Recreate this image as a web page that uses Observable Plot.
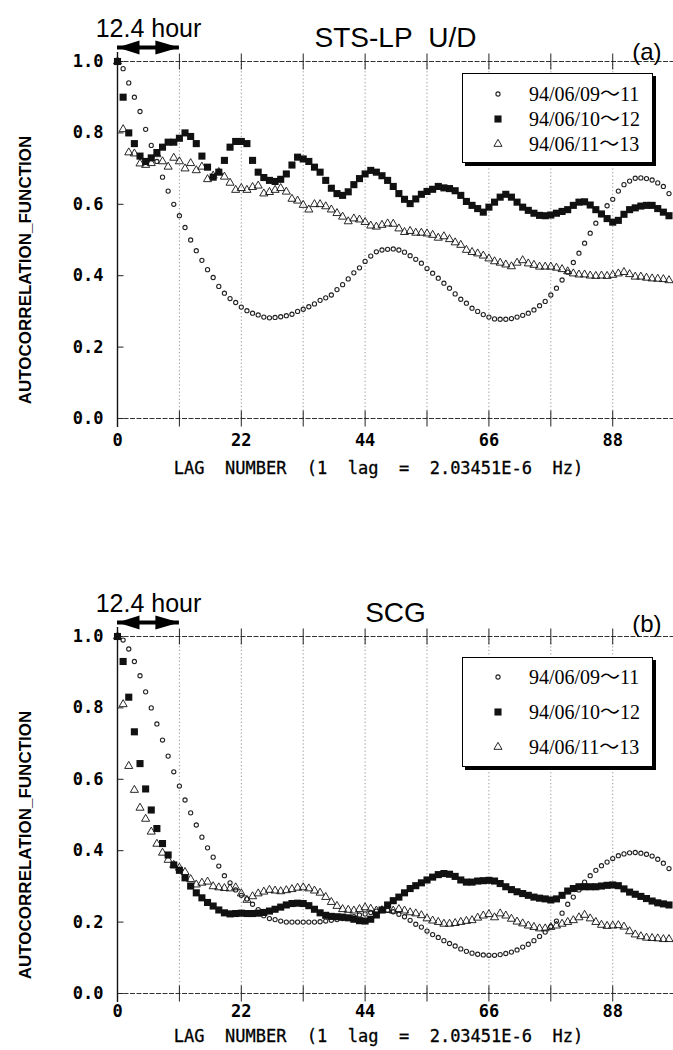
<!DOCTYPE html>
<html>
<head>
<meta charset="utf-8">
<script src="https://cdn.jsdelivr.net/npm/d3@7"></script>
<script src="https://cdn.jsdelivr.net/npm/@observablehq/plot@0.6"></script>
<style>
  body { margin: 0; background: #fff; }
  #wrap { position: relative; width: 673px; height: 1050px; overflow: hidden; background: #fff; }
  .panel { position: absolute; left: 0; }
  .legend { position: absolute; border: 1.5px solid #000; box-shadow: 3px 3px 0 #000; background: #fff;
            font-family: "Liberation Serif", "Noto Sans CJK JP", serif; font-size: 20px; color: #000; box-sizing: border-box; }
  .legend .row { position: absolute; left: 0; width: 100%; height: 24px; }
  .legend .row svg { position: absolute; top: 4px; }
  .legend .row span { position: absolute; left: 66px; top: 0; line-height: 24px; white-space: nowrap; }
</style>
</head>
<body>
<div id="wrap"></div>
<script>
// ---------------- data ----------------
const lags = d3.range(0, 99);                       // lag numbers 0..98
const seriesNames = ["94/06/09〜11", "94/06/10〜12", "94/06/11〜13"];
const M2 = 11;                                       // 12.4-hour period, in lags
const gridLags = [11, 22, 33, 44, 55, 66, 77, 88];
const xTickLabels = [0, 22, 44, 66, 88];
const yTicks = [0, 0.2, 0.4, 0.6, 0.8, 1.0];
const xLabel = "LAG\u00a0 NUMBER\u00a0 (1\u00a0 lag\u00a0 =\u00a0 2.03451E-6\u00a0 Hz)";
const yLabel = "AUTOCORRELATION_FUNCTION";

// (a) STS-LP U/D
const sts_0609_11 = [1.0,0.98,0.94,0.90,0.86,0.81,0.765,0.72,0.676,0.637,
  0.60,0.568,0.535,0.50,0.47,0.443,0.417,0.395,0.37,0.351,
  0.336,0.325,0.312,0.302,0.295,0.29,0.284,0.282,0.283,0.285,
  0.288,0.292,0.30,0.306,0.313,0.321,0.331,0.338,0.346,0.361,
  0.375,0.391,0.408,0.422,0.44,0.455,0.467,0.472,0.474,0.475,
  0.472,0.466,0.456,0.446,0.435,0.42,0.407,0.393,0.379,0.365,
  0.349,0.334,0.323,0.309,0.30,0.291,0.284,0.279,0.278,0.278,
  0.28,0.284,0.289,0.295,0.304,0.316,0.328,0.346,0.365,0.388,
  0.41,0.437,0.463,0.491,0.519,0.547,0.571,0.596,0.614,0.637,
  0.655,0.665,0.673,0.674,0.672,0.668,0.66,0.65,0.63];
const sts_0610_12 = [1.0,0.90,0.80,0.77,0.735,0.72,0.73,0.745,0.76,0.774,
  0.774,0.785,0.80,0.79,0.77,0.735,0.704,0.676,0.69,0.723,
  0.76,0.776,0.776,0.77,0.723,0.69,0.675,0.667,0.664,0.67,
  0.685,0.71,0.732,0.727,0.72,0.704,0.69,0.667,0.645,0.63,
  0.625,0.635,0.655,0.672,0.685,0.695,0.69,0.68,0.667,0.65,
  0.63,0.614,0.602,0.615,0.628,0.636,0.642,0.65,0.646,0.644,
  0.638,0.625,0.608,0.597,0.588,0.578,0.592,0.606,0.62,0.628,
  0.62,0.606,0.592,0.583,0.575,0.569,0.568,0.57,0.575,0.58,
  0.585,0.597,0.606,0.607,0.598,0.585,0.573,0.56,0.55,0.555,
  0.572,0.585,0.59,0.595,0.597,0.597,0.588,0.578,0.568];
const sts_0611_13 = [1.0,0.81,0.745,0.742,0.714,0.71,0.715,0.74,0.72,0.705,
  0.73,0.72,0.70,0.715,0.695,0.705,0.67,0.68,0.69,0.677,
  0.66,0.64,0.645,0.64,0.648,0.652,0.63,0.634,0.64,0.645,
  0.635,0.615,0.61,0.598,0.585,0.6,0.6,0.594,0.585,0.575,
  0.565,0.552,0.56,0.557,0.55,0.54,0.537,0.542,0.546,0.545,
  0.532,0.522,0.525,0.52,0.52,0.518,0.514,0.506,0.51,0.502,
  0.493,0.486,0.472,0.466,0.462,0.456,0.448,0.44,0.436,0.431,
  0.426,0.436,0.443,0.434,0.43,0.425,0.425,0.425,0.422,0.418,
  0.412,0.406,0.403,0.403,0.40,0.399,0.40,0.399,0.402,0.406,
  0.41,0.404,0.397,0.397,0.394,0.392,0.391,0.39,0.387];

// (b) SCG
const scg_0609_11 = [1.0,0.99,0.965,0.93,0.89,0.845,0.80,0.755,0.71,0.665,
  0.621,0.581,0.542,0.506,0.472,0.438,0.408,0.382,0.357,0.33,
  0.31,0.29,0.275,0.265,0.25,0.235,0.218,0.21,0.207,0.203,
  0.20,0.20,0.20,0.20,0.20,0.20,0.201,0.203,0.205,0.207,
  0.21,0.212,0.215,0.22,0.223,0.227,0.231,0.234,0.233,0.229,
  0.222,0.215,0.205,0.194,0.186,0.175,0.165,0.157,0.148,0.14,
  0.133,0.125,0.118,0.113,0.11,0.108,0.107,0.107,0.109,0.112,
  0.116,0.122,0.13,0.138,0.148,0.16,0.172,0.187,0.203,0.225,
  0.25,0.27,0.29,0.312,0.33,0.345,0.358,0.368,0.378,0.386,
  0.391,0.394,0.395,0.393,0.39,0.385,0.376,0.365,0.35];
const scg_0610_12 = [1.0,0.93,0.83,0.733,0.644,0.573,0.514,0.462,0.42,0.388,
  0.36,0.345,0.324,0.301,0.282,0.268,0.255,0.245,0.234,0.226,
  0.223,0.224,0.225,0.224,0.224,0.225,0.227,0.231,0.236,0.242,
  0.248,0.252,0.253,0.252,0.246,0.236,0.226,0.219,0.216,0.215,
  0.214,0.212,0.208,0.204,0.203,0.208,0.22,0.234,0.248,0.26,
  0.27,0.282,0.294,0.302,0.31,0.318,0.326,0.333,0.336,0.334,
  0.328,0.318,0.312,0.312,0.315,0.316,0.317,0.315,0.308,0.299,
  0.291,0.285,0.28,0.275,0.27,0.267,0.265,0.262,0.265,0.275,
  0.287,0.294,0.299,0.299,0.299,0.299,0.301,0.303,0.304,0.302,
  0.293,0.284,0.278,0.272,0.266,0.259,0.254,0.251,0.248];
const scg_0611_13 = [1.0,0.81,0.637,0.57,0.52,0.489,0.453,0.419,0.394,0.374,
  0.36,0.352,0.34,0.32,0.305,0.31,0.313,0.30,0.297,0.295,
  0.294,0.297,0.28,0.262,0.272,0.28,0.285,0.29,0.288,0.286,
  0.289,0.292,0.296,0.297,0.294,0.288,0.282,0.27,0.256,0.245,
  0.236,0.234,0.232,0.236,0.241,0.237,0.232,0.233,0.234,0.232,
  0.236,0.232,0.227,0.224,0.219,0.21,0.204,0.2,0.195,0.195,
  0.197,0.2,0.203,0.205,0.212,0.218,0.222,0.213,0.224,0.218,
  0.209,0.201,0.196,0.19,0.186,0.182,0.182,0.186,0.19,0.195,
  0.2,0.205,0.213,0.22,0.21,0.2,0.192,0.189,0.19,0.191,
  0.187,0.174,0.165,0.16,0.156,0.155,0.154,0.152,0.152];

// ---------------- helpers ----------------
function toRows(arrays) {
  return arrays.map((vals, i) => vals.map((v, j) => ({lag: lags[j], value: v, series: seriesNames[i]})));
}
const tickV = {draw(ctx) { ctx.moveTo(0, -8); ctx.lineTo(0, 8); }};
const tickIn = {draw(ctx) { ctx.moveTo(0, 0); ctx.lineTo(6, 0); }};
const headLeft = {draw(ctx) { ctx.moveTo(0, 0); ctx.lineTo(22, -7); ctx.lineTo(22, 7); ctx.closePath(); }};
const headRight = {draw(ctx) { ctx.moveTo(0, 0); ctx.lineTo(-24, -7); ctx.lineTo(-24, 7); ctx.closePath(); }};

const MONO = "'DejaVu Sans Mono', monospace";
const SANS = "'Liberation Sans', Arial, sans-serif";

const styles = [
  {symbol: "circle", r: 2.1, fill: "none", stroke: "#222", strokeWidth: 1.1},
  {symbol: "square", r: 4.0, fill: "#111", stroke: "none"},
  {symbol: "triangle", r: 3.0, fill: "none", stroke: "#111", strokeWidth: 0.9}
];

function panel({title, tag, tagDy, arrays, tickDy, labelDy}) {
  const rows = toRows(arrays);
  const svg = Plot.plot({
    width: 673, height: 575,
    marginLeft: 117, marginRight: 0, marginTop: 61, marginBottom: 157,
    x: {domain: [0, 98.8], axis: null},
    y: {domain: [0, 1], axis: null},
    style: {background: "white", overflow: "visible"},
    marks: [
      Plot.ruleX(gridLags, {x: d => d, y1: 0, y2: 1, stroke: "#888", strokeWidth: 0.9, strokeDasharray: "1.2,2.4"}),
      Plot.ruleY([1], {stroke: "#333", strokeWidth: 1, strokeDasharray: "5,1.5"}),
      Plot.ruleY([0], {stroke: "#333", strokeWidth: 1, strokeDasharray: "5,1.5"}),
      Plot.ruleX([0], {stroke: "#111", strokeWidth: 1.4, insetTop: -9, insetBottom: -9}),
      Plot.dot(gridLags, {x: d => d, y: 1, symbol: tickV, fill: "none", stroke: "#222", strokeWidth: 1}),
      Plot.dot(gridLags, {x: d => d, y: 0, symbol: tickV, fill: "none", stroke: "#222", strokeWidth: 1}),
      Plot.dot(yTicks, {x: 0, y: d => d, symbol: tickIn, fill: "none", stroke: "#222", strokeWidth: 1}),
      // tick labels
      Plot.text(yTicks, {y: d => d, frameAnchor: "left", dx: -14, textAnchor: "end", text: d => d.toFixed(1),
        fontFamily: MONO, fontWeight: "bold", fontSize: 17, fill: "#000", ariaLabel: "mono-text"}),
      Plot.text(xTickLabels, {x: d => d, frameAnchor: "bottom", dy: tickDy, text: d => String(d),
        fontFamily: MONO, fontWeight: "bold", fontSize: 17, fill: "#000", ariaLabel: "mono-text"}),
      // axis titles
      Plot.text([xLabel], {frameAnchor: "bottom", dx: -17, dy: labelDy, textAnchor: "middle",
        fontFamily: MONO, fontSize: 17, fill: "#000", stroke: "#000", strokeWidth: 0.3, ariaLabel: "mono-label"}),
      Plot.text([yLabel], {frameAnchor: "left", rotate: -90, dx: -92, dy: 30, textAnchor: "middle",
        fontFamily: SANS, fontWeight: "bold", fontSize: 17, fill: "#000"}),
      // headings
      Plot.text([title], {frameAnchor: "top", dy: -34, textAnchor: "middle", fontFamily: SANS, fontSize: 28, fill: "#000"}),
      Plot.text([tag], {frameAnchor: "top-right", dx: -12, dy: tagDy, textAnchor: "end", fontFamily: SANS, fontSize: 24, fill: "#000"}),
      Plot.text(["12.4 hour"], {x: M2 / 2, frameAnchor: "top", dy: -42, textAnchor: "middle", fontFamily: SANS, fontSize: 25, fill: "#000"}),
      // 12.4-hour double arrow
      Plot.ruleY([1], {x1: 0, x2: M2, dy: -14, stroke: "#000", strokeWidth: 4}),
      Plot.dot([0], {x: d => d, y: 1, dy: -14, symbol: headLeft, fill: "#000", stroke: "none"}),
      Plot.dot([M2], {x: d => d, y: 1, dy: -14, symbol: headRight, fill: "#000", stroke: "none"}),
      // data
      Plot.dot(rows[0], {x: "lag", y: "value", ...styles[0]}),
      Plot.dot(rows[2], {x: "lag", y: "value", ...styles[2]}),
      Plot.dot(rows[1], {x: "lag", y: "value", ...styles[1]})
    ]
  });
  svg.querySelectorAll('g[aria-label="mono-text"] text').forEach(t => t.setAttribute("letter-spacing", "1"));
  return svg;
}

function legend(root, left, top, width, height, rowCenters) {
  const box = d3.select(root).append("div").attr("class", "legend")
    .style("left", left + "px").style("top", top + "px")
    .style("width", width + "px").style("height", height + "px");
  seriesNames.forEach((name, i) => {
    const row = box.append("div").attr("class", "row").style("top", (rowCenters[i] - 12) + "px");
    const s = styles[i];
    const svg = row.append("svg").attr("width", 16).attr("height", 16).style("left", (35 - 8) + "px");
    const sym = {circle: d3.symbolCircle, square: d3.symbolSquare, triangle: d3.symbolTriangle}[s.symbol];
    svg.append("path").attr("transform", "translate(8,8)")
      .attr("d", d3.symbol(sym, Math.PI * s.r * s.r)())
      .attr("fill", s.fill).attr("stroke", s.stroke).attr("stroke-width", s.strokeWidth || 0);
    row.append("span").text(name);
  });
}

const wrap = document.getElementById("wrap");
const pA = panel({title: "STS-LP\u00a0 U/D", tag: "(a)", tagDy: -19, arrays: [sts_0609_11, sts_0610_12, sts_0611_13], tickDy: 27, labelDy: 55});
const pB = panel({title: "SCG", tag: "(b)", tagDy: -22, arrays: [scg_0609_11, scg_0610_12, scg_0611_13], tickDy: 23, labelDy: 48});
pA.classList.add("panel"); pA.style.top = "0px";
pB.classList.add("panel"); pB.style.top = "575px";
wrap.appendChild(pA);
wrap.appendChild(pB);
legend(wrap, 462, 73, 191, 90, [20, 45, 70]);
legend(wrap, 462, 657, 191, 110, [19, 54, 89]);
</script>
</body>
</html>
